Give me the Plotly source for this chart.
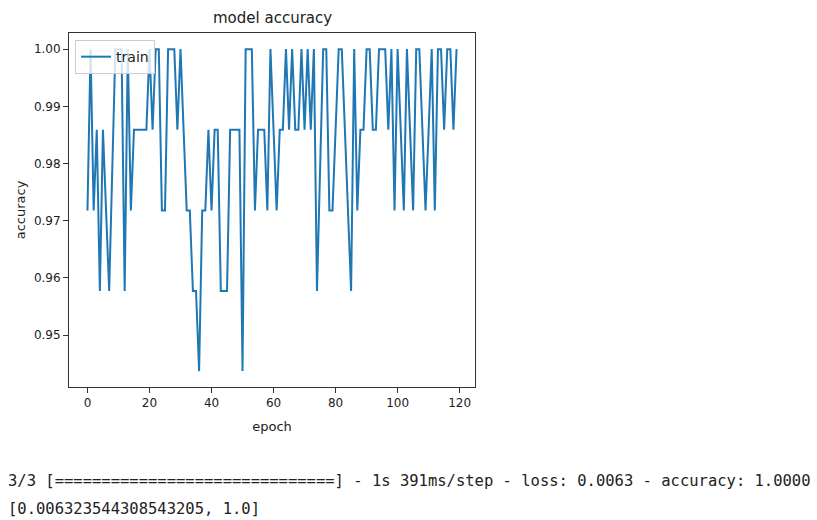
import plotly.graph_objects as go

epochs = list(range(120))
train_acc = [
    0.9718, 1.0, 0.9718, 0.9859, 0.9577, 0.9859, 0.9718, 0.9577, 0.9789, 1.0,
    1.0, 1.0, 0.9577, 1.0, 0.9718, 0.9859, 0.9859, 0.9859, 0.9859, 0.9859,
    1.0, 0.9859, 1.0, 1.0, 0.9718, 0.9718, 1.0, 1.0, 1.0, 0.9859,
    1.0, 0.9859, 0.9718, 0.9718, 0.9577, 0.9577, 0.9437, 0.9718, 0.9718, 0.9859,
    0.9718, 0.9859, 0.9859, 0.9577, 0.9577, 0.9577, 0.9859, 0.9859, 0.9859, 0.9859,
    0.9437, 1.0, 1.0, 1.0, 0.9718, 0.9859, 0.9859, 0.9859, 0.9718, 1.0,
    0.9859, 0.9718, 0.9859, 0.9859, 1.0, 0.9859, 1.0, 0.9859, 0.9859, 1.0,
    0.9859, 1.0, 0.9859, 1.0, 0.9577, 0.9789, 1.0, 1.0, 0.9718, 0.9718,
    0.9859, 1.0, 1.0, 0.9859, 0.9718, 0.9577, 1.0, 0.9718, 0.9859, 0.9859,
    1.0, 1.0, 0.9859, 0.9859, 1.0, 1.0, 1.0, 0.9859, 1.0, 0.9718,
    1.0, 0.9859, 0.9718, 1.0, 0.9859, 0.9718, 1.0, 1.0, 0.9859, 0.9718,
    0.9859, 1.0, 0.9718, 1.0, 1.0, 0.9859, 1.0, 1.0, 0.9859, 1.0,
]
x_ticks = [0, 20, 40, 60, 80, 100, 120]
y_ticks = [0.95, 0.96, 0.97, 0.98, 0.99, 1.00]
series_name = "train"
title_text = "model accuracy"
x_label = "epoch"
y_label = "accuracy"
console_lines = [
    "3/3 [==============================] - 1s 391ms/step - loss: 0.0063 - accuracy: 1.0000",
    "[0.006323544308543205, 1.0]",
]

W, H = 817, 520
L, R, T, B = 69, 475, 33, 387

fig = go.Figure()
fig.add_trace(go.Scatter(
    x=epochs, y=train_acc, mode="lines", name=series_name,
    line=dict(color="#1f77b4", width=2),
))

axis_common = dict(
    showline=True, mirror=True, linecolor="#333333", linewidth=1,
    showgrid=False, zeroline=False, ticks="outside", ticklen=5,
    tickcolor="#333333", tickfont=dict(family="DejaVu Sans", size=12, color="#222222"),
)
fig.update_xaxes(range=[-5.95, 124.95], tickvals=x_ticks,
                 title=dict(text=x_label, font=dict(family="DejaVu Sans", size=13, color="#222222"), standoff=12),
                 **axis_common)
fig.update_yaxes(range=[0.94092, 1.00282], tickvals=y_ticks, tickformat=".2f",
                 title=dict(text=y_label, font=dict(family="DejaVu Sans", size=13, color="#222222"), standoff=5),
                 **axis_common)

pw = R - L
ph = B - T
annotations = [
    dict(text=title_text, xref="paper", yref="paper", x=0.5, y=1 + 15 / ph,
         xanchor="center", yanchor="middle", showarrow=False,
         font=dict(family="DejaVu Sans", size=15, color="#222222")),
]
for i, line in enumerate(console_lines):
    annotations.append(dict(
        text=line, xref="paper", yref="paper",
        x=(6 - L) / pw, y=-(481 + 28 * i - B) / ph,
        xanchor="left", yanchor="middle", showarrow=False,
        font=dict(family="DejaVu Sans Mono", size=15.5, color="#222222"),
    ))

fig.update_layout(
    width=W, height=H,
    margin=dict(l=L, r=W - R, t=T, b=H - B, autoexpand=False),
    paper_bgcolor="white", plot_bgcolor="white",
    showlegend=True,
    legend=dict(x=0.015, y=0.98, xanchor="left", yanchor="top",
                bgcolor="rgba(255,255,255,0.8)", bordercolor="#cccccc", borderwidth=1,
                font=dict(family="DejaVu Sans", size=14, color="#222222"),
                itemwidth=30, tracegroupgap=0),
    annotations=annotations,
)

fig.write_html("out.html")
